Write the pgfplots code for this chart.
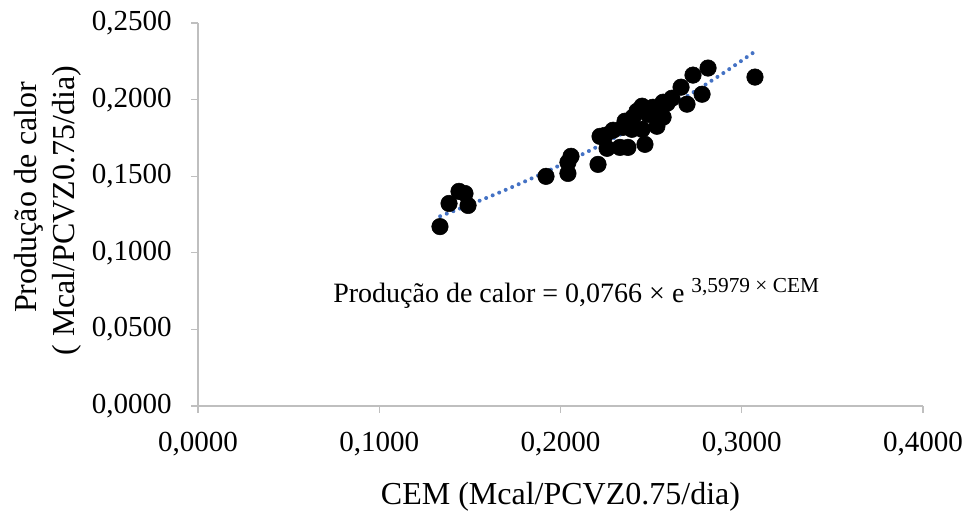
\documentclass[border=0pt]{standalone}
\usepackage{pgfplots}
\pgfplotsset{compat=1.18}
\usepackage{fontspec}
\setmainfont{Liberation Serif}
\definecolor{axgray}{HTML}{BFBFBF}
\definecolor{trend}{HTML}{4472C4}
\begin{document}
\begin{tikzpicture}
\begin{axis}[
  scale only axis,
  width=543.75pt, height=287.25pt,
  xmin=0, xmax=0.4, ymin=0, ymax=0.25,
  xtick={0,0.1,0.2,0.3,0.4},
  ytick={0,0.05,0.1,0.15,0.2,0.25},
  axis lines=left,
  axis line style={axgray, line width=0.9pt, -},
  tick style={axgray, line width=0.9pt},
  tick align=outside,
  major tick length=5.2pt,
  /pgf/number format/assume math mode=true,
  /pgf/number format/.cd, fixed, fixed zerofill, precision=4, use comma,
  /pgfplots/.cd,
  scaled ticks=false,
  ticklabel style={font=\fontsize{21.8}{24}\selectfont, text=black},
  xticklabel style={yshift=-11pt},
  yticklabel style={xshift=-11pt},
  xlabel={CEM (Mcal/PCVZ0.75/dia)},
  ylabel={\hspace*{20pt}Produção de calor\\( Mcal/PCVZ0.75/dia)},
  label style={font=\fontsize{24}{28.5}\selectfont},
  xlabel style={at={(axis description cs:0.5,-0.2376)}, anchor=center},
  ylabel style={at={(axis description cs:-0.207,0.51)}, anchor=center, align=center},
  clip=false,
]
\addplot[only marks, mark=*, mark size=6.2pt, black] coordinates {
(0.1335,0.1171) (0.1385,0.1322) (0.1440,0.1401) (0.1473,0.1387) (0.1490,0.1309)
(0.1920,0.1499) (0.2041,0.1518) (0.2058,0.1630) (0.2041,0.1590) (0.2207,0.1577)
(0.2218,0.1760) (0.2246,0.1767) (0.2257,0.1682) (0.2290,0.1800) (0.2328,0.1688)
(0.2372,0.1688) (0.2356,0.1859) (0.2400,0.1885) (0.2394,0.1806) (0.2450,0.1806)
(0.2466,0.1708) (0.2450,0.1957) (0.2510,0.1950) (0.2532,0.1826) (0.2566,0.1885)
(0.2566,0.1983) (0.2588,0.1976) (0.2615,0.2009) (0.2665,0.2081) (0.2698,0.1970)
(0.2731,0.2160) (0.2781,0.2035) (0.2814,0.2206) (0.3073,0.2147) (0.2345,0.1819)
(0.2483,0.1904) (0.2422,0.1924)
};
\addplot[trend, line width=3pt, line cap=round, dash pattern=on 0pt off 5.3pt, smooth] coordinates {
(0.1336,0.12387) (0.15,0.13141) (0.17,0.14121) (0.19,0.15175) (0.21,0.16307)
(0.23,0.17523) (0.25,0.18831) (0.27,0.20236) (0.29,0.21745) (0.3074,0.23150)
};
\node[anchor=base west, font=\fontsize{21}{24}\selectfont, inner sep=0pt] at (axis cs:0.0745,0.0674)
  {Produção de calor = 0,0766 × e \raisebox{0.38em}{\fontsize{16}{18}\selectfont 3,5979 × CEM}};
\end{axis}
\pgfresetboundingbox
\path[use as bounding box] (-148.5pt,-89.25pt) rectangle (579pt,304.5pt);
\end{tikzpicture}
\end{document}
